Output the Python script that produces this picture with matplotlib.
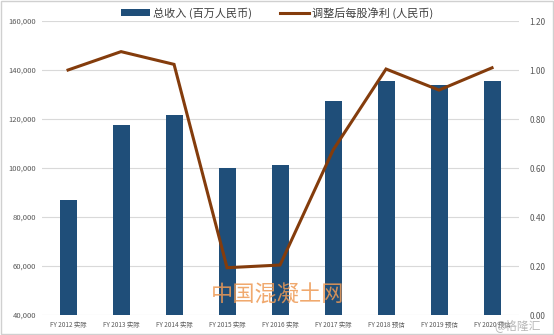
import matplotlib
matplotlib.use("Agg")
import matplotlib.pyplot as plt
import numpy as np
from matplotlib.patches import Rectangle

plt.rcParams['font.family'] = ['Noto Sans CJK SC', 'DejaVu Sans']

categories = ["FY 2012 实际", "FY 2013 实际", "FY 2014 实际", "FY 2015 实际", "FY 2016 实际",
              "FY 2017 实际", "FY 2018 预估", "FY 2019 预估", "FY 2020 预估"]
revenue = [87000, 117500, 121600, 100200, 101200, 127300, 135500, 133900, 135500]
eps = [1.00, 1.075, 1.023, 0.193, 0.204, 0.673, 1.004, 0.918, 1.009]
left_ticks = [40000, 60000, 80000, 100000, 120000, 140000, 160000]
right_ticks = [0.0, 0.2, 0.4, 0.6, 0.8, 1.0, 1.2]

bar_color = "#1F4E79"
line_color = "#843C0C"
grid_color = "#D9D9D9"
text_color = "#595959"

fig = plt.figure(figsize=(5.54, 3.35), dpi=100)
ax = fig.add_axes([0.075, 0.0597, 0.861, 0.8776])
x = np.arange(len(categories))

bars = ax.bar(x, revenue, width=0.32, color=bar_color, zorder=2, label="总收入 (百万人民币)")
ax.set_ylim(40000, 160000)
ax.set_xlim(-0.5, len(categories) - 0.5)
ax.set_yticks(left_ticks)
ax.set_yticklabels([f"{v:,}" for v in left_ticks])
ax.set_xticks(x)
ax.set_xticklabels(categories)
ax.grid(axis="y", color=grid_color, linewidth=0.8, zorder=0)
ax.tick_params(axis="y", length=0, labelsize=5.5, labelcolor=text_color, pad=4)
ax.tick_params(axis="x", length=0, labelsize=4.6, labelcolor=text_color, pad=4)
for s in ax.spines.values():
    s.set_visible(False)

ax2 = ax.twinx()
line, = ax2.plot(x, eps, color=line_color, linewidth=2.2, zorder=3,
                 solid_joinstyle="miter", label="调整后每股净利 (人民币)")
ax2.set_ylim(0, 1.2)
ax2.set_yticks(right_ticks)
ax2.set_yticklabels([f"{v:.2f}" for v in right_ticks])
ax2.tick_params(axis="y", length=0, labelsize=6, labelcolor=text_color, pad=8)
for s in ax2.spines.values():
    s.set_visible(False)

fig.legend(handles=[bars, line], loc="center", bbox_to_anchor=(0.5, 0.962), ncol=2,
           frameon=False, fontsize=8, handlelength=2.6, handleheight=0.6,
           columnspacing=2.5, handletextpad=0.3, labelcolor="#404040")

fig.text(0.502, 0.118, "中国混凝土网", fontsize=16, color="#EE9A55", alpha=0.85,
         ha="center", va="center", zorder=10)
fig.text(0.935, 0.028, "@格隆汇", fontsize=8.5, color="#B0B0B0", alpha=0.9,
         ha="center", va="center", zorder=10)

fig.patches.append(Rectangle((0.001, 0.002), 0.997, 0.995, transform=fig.transFigure,
                             fill=False, edgecolor="#D0D0D0", linewidth=1.0))

fig.savefig("out.png", dpi=100)
